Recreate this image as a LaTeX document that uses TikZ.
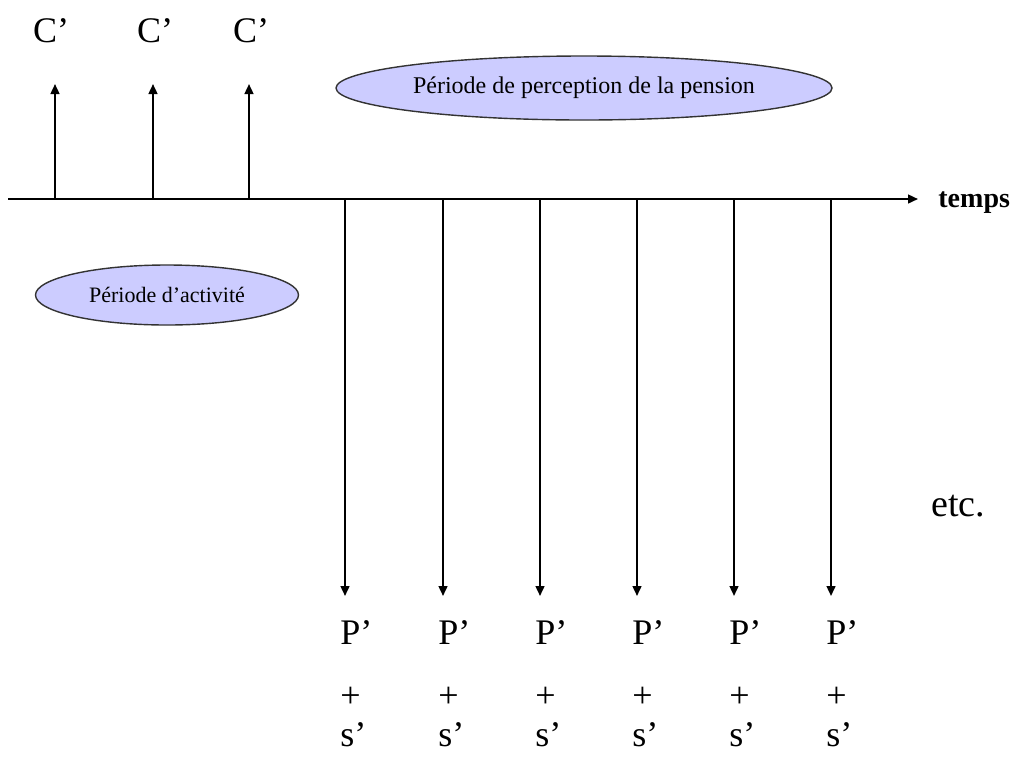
\documentclass[tikz,border=0pt]{standalone}
\usepackage{fontspec}
\setmainfont{Liberation Serif}
\usetikzlibrary{arrows.meta,shapes.geometric}
\definecolor{lavande}{HTML}{CCCCFF}
\tikzset{
  fleche/.style={line width=1pt,-{Triangle[length=5pt,width=4.4pt]}},
  bulle/.style={ellipse,draw=black!80,line width=.7pt,fill=lavande,inner sep=0pt},
  flux/.style={inner sep=0pt,font=\fontsize{18}{20}\selectfont},
}
\begin{document}
\begin{tikzpicture}[x=.5pt,y=-.5pt]
            \useasboundingbox (0,0) rectangle (1020,756);
            %\draw[help lines] (0,0) grid[step=50] (1020,756);
            \coordinate (debut) at (8,199);
            \coordinate (fin) at (918,199);
            \draw[fleche] (debut) -- (fin);
            \node[anchor=west,inner sep=0pt,font=\fontsize{14}{16}\selectfont\bfseries] (temps) at (938,203) {temps};
            \node[bulle,minimum width=248pt,minimum height=32pt,font=\fontsize{12}{14}\selectfont] (perception) at (584,88) {Période de perception de la pension};
            \node[bulle,minimum width=131.5pt,minimum height=30pt,font=\fontsize{11}{13}\selectfont] (activite) at (167,295) {Période d’activité};
            % cotisations
            \coordinate (c1) at (55,199); \coordinate (c1h) at (55,84);
            \coordinate (c2) at (153,199); \coordinate (c2h) at (153,84);
            \coordinate (c3) at (249,199); \coordinate (c3h) at (249,84);
            \draw[fleche] (c1) -- (c1h);
            \draw[fleche] (c2) -- (c2h);
            \draw[fleche] (c3) -- (c3h);
            \node[flux,anchor=base] (C1) at (51,42) {C’};
            \node[flux,anchor=base] (C2) at (155,42) {C’};
            \node[flux,anchor=base] (C3) at (251,42) {C’};
            % pensions
            \coordinate (p1) at (345,199); \coordinate (p1b) at (345,596);
            \coordinate (p2) at (443,199); \coordinate (p2b) at (443,596);
            \coordinate (p3) at (540,199); \coordinate (p3b) at (540,596);
            \coordinate (p4) at (637,199); \coordinate (p4b) at (637,596);
            \coordinate (p5) at (734,199); \coordinate (p5b) at (734,596);
            \coordinate (p6) at (831,199); \coordinate (p6b) at (831,596);
            \draw[fleche] (p1) -- (p1b);
            \draw[fleche] (p2) -- (p2b);
            \draw[fleche] (p3) -- (p3b);
            \draw[fleche] (p4) -- (p4b);
            \draw[fleche] (p5) -- (p5b);
            \draw[fleche] (p6) -- (p6b);
            \node[flux,anchor=base west] (P1) at (340,644) {P’};
            \node[flux,anchor=base west] (P2) at (438,644) {P’};
            \node[flux,anchor=base west] (P3) at (535,644) {P’};
            \node[flux,anchor=base west] (P4) at (632,644) {P’};
            \node[flux,anchor=base west] (P5) at (729,644) {P’};
            \node[flux,anchor=base west] (P6) at (826,644) {P’};
            \node[flux,anchor=west] (plus1) at (340,697) {+};
            \node[flux,anchor=west] (plus2) at (438,697) {+};
            \node[flux,anchor=west] (plus3) at (535,697) {+};
            \node[flux,anchor=west] (plus4) at (632,697) {+};
            \node[flux,anchor=west] (plus5) at (729,697) {+};
            \node[flux,anchor=west] (plus6) at (826,697) {+};
            \node[flux,anchor=base west] (s1) at (340,746) {s’};
            \node[flux,anchor=base west] (s2) at (438,746) {s’};
            \node[flux,anchor=base west] (s3) at (535,746) {s’};
            \node[flux,anchor=base west] (s4) at (632,746) {s’};
            \node[flux,anchor=base west] (s5) at (729,746) {s’};
            \node[flux,anchor=base west] (s6) at (826,746) {s’};
            \node[flux,anchor=west,font=\fontsize{19}{21}\selectfont] (etc) at (931,506) {etc.};
        \end{tikzpicture}
\end{document}
